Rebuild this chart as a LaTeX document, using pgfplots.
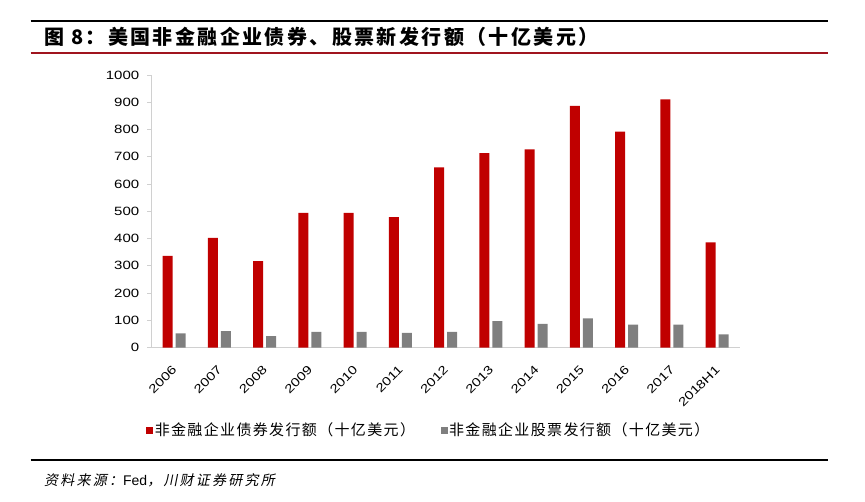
\documentclass[border=0pt]{standalone}
\usepackage{pgfplots}
\pgfplotsset{compat=1.18}
\usepackage{pgfplotstable}
\usepackage{fontspec}
\setmainfont{Liberation Sans}
\newfontfamily\cjk{Noto Sans CJK SC}
\newfontfamily\tickfont[FakeStretch=1.25]{Liberation Sans}
\definecolor{barred}{HTML}{C00000}
\definecolor{bargray}{HTML}{7F7F7F}
\definecolor{axgray}{HTML}{D0D0D0}
\definecolor{linered}{HTML}{A0141E}

\pgfplotstableread{
x bond equity
0 336 52
1 402 60
2 317 42
3 494 57
4 494 57
5 478 54
6 661 57
7 713 97
8 727 87
9 887 107
10 792 84
11 911 84
12 386 48
}\data

\begin{document}
\begin{tikzpicture}[x=1pt,y=1pt]
\useasboundingbox (0,0) rectangle (865,501);
\draw[black, line width=1.1pt] (30.5,480) -- (828,480);
\draw[linered, line width=1.1pt] (30.5,448) -- (828,448);
\node[anchor=west, inner sep=0] at (44,464) {\cjk\bfseries\fontsize{20}{20}\selectfont\addfontfeature{LetterSpace=12}图 8：美国非金融企业债券、股票新发行额（十亿美元）};
\draw[black, line width=1.1pt] (30.5,41) -- (828,41);
\node[anchor=west, inner sep=0] at (44,21) {\cjk\fontsize{14}{14}\selectfont\addfontfeature{FakeSlant=0.2,LetterSpace=16}资料来源：{\fontspec{Liberation Sans}\addfontfeature{LetterSpace=0}Fed}，川财证券研究所};
\begin{axis}[
  at={(151.4pt,153.5pt)}, anchor=south west,
  scale only axis, width=588.4pt, height=272.5pt,
  xmin=-0.5, xmax=12.5, ymin=0, ymax=1000,
  axis x line*=bottom, axis y line*=left,
  axis line style={axgray, line width=0.8pt},
  ybar=3pt, bar width=10pt,
  xtick={0,...,12},
  xticklabels={2006,2007,2008,2009,2010,2011,2012,2013,2014,2015,2016,2017,2018H1},
  ytick={0,100,...,1000},
  major x tick style={draw=none},
  major y tick style={axgray, line width=0.8pt},
  tick align=outside, major tick length=4pt,
  /pgf/number format/assume math mode=true,
  /pgf/number format/1000 sep={},
  yticklabel style={font=\tickfont\fontsize{12}{12}\selectfont, inner sep=0pt, xshift=-8pt},
  xticklabel style={font=\tickfont\fontsize{12}{12}\selectfont, inner sep=0pt, xshift=0.5pt, yshift=-16pt, rotate=45, anchor=east},
  legend style={at={(-0.009,-0.303)}, anchor=west, draw=none, fill=none, inner sep=0pt,
    font=\cjk\fontsize{15}{15}\selectfont\addfontfeature{LetterSpace=9},
    /tikz/every even column/.append style={column sep=24pt},
    nodes={inner sep=1.5pt}},
  legend columns=2, legend cell align=left,
  clip=false,
]
\addplot[fill=barred, draw=none, legend image code/.code={\fill[barred] (0pt,-3.5pt) rectangle (7pt,3.5pt);}] table[x=x, y=bond] {\data};
\addlegendentry{非金融企业债券发行额（十亿美元）}
\addplot[fill=bargray, draw=none, legend image code/.code={\fill[bargray] (0pt,-3.5pt) rectangle (7pt,3.5pt);}] table[x=x, y=equity] {\data};
\addlegendentry{非金融企业股票发行额（十亿美元）}
\end{axis}
\end{tikzpicture}
\end{document}
